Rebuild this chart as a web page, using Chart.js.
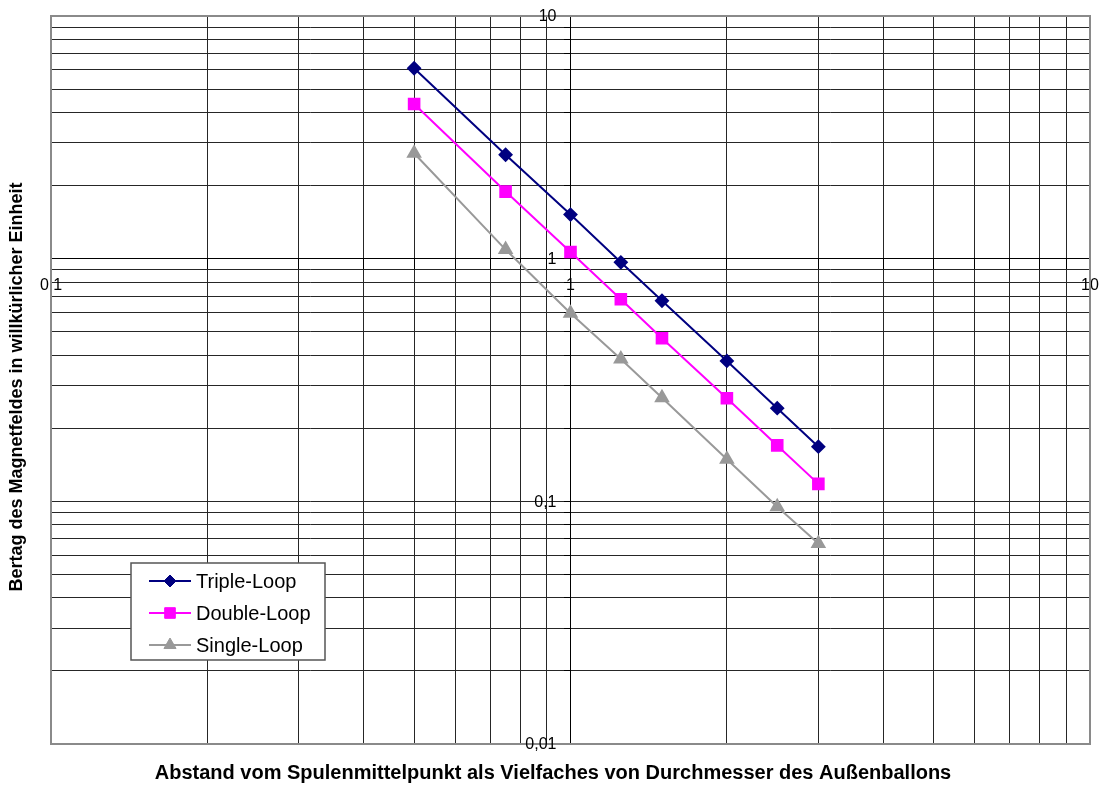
<!DOCTYPE html>
<html>
<head>
<meta charset="utf-8">
<script src="https://cdn.jsdelivr.net/npm/chart.js@4/dist/chart.umd.min.js"></script>
<style>
  html, body { margin: 0; padding: 0; background: #fff; }
  #wrap { width: 1106px; height: 787px; }
  canvas { display: block; }
</style>
</head>
<body>
<div id="wrap"><canvas id="fieldChart" width="1106" height="787"></canvas></div>
<script>
// distance from coil centre (multiples of outer balloon diameter)
const distances = [0.5, 0.75, 1, 1.25, 1.5, 2, 2.5, 3];
const tripleLoop = [6.09, 2.68, 1.52, 0.966, 0.671, 0.379, 0.242, 0.168];
const doubleLoop = [4.34, 1.89, 1.065, 0.68, 0.47, 0.266, 0.17, 0.118];
const singleLoop = [2.72, 1.09, 0.596, 0.386, 0.267, 0.149, 0.095, 0.067];
const seriesNames = ['Triple-Loop', 'Double-Loop', 'Single-Loop'];

const xDecades = [0.1, 1, 10];
const xTickLabels = ['0,1', '1', '10'];
const yDecades = [0.01, 0.1, 1, 10];
const yTickLabels = ['0,01', '0,1', '1', '10'];

const xTitle = 'Abstand vom Spulenmittelpunkt als Vielfaches von Durchmesser des Außenballons';
const yTitle = 'Bertag des Magnetfeldes in willkürlicher Einheit';

const FONT = 'Arial, "Liberation Sans", sans-serif';

// grid positions 1..9 in every decade
function gridValues(decades) {
  const out = [];
  for (let i = 0; i < decades.length - 1; i++) {
    for (let k = 1; k < 10; k++) out.push(parseFloat((k * decades[i]).toPrecision(6)));
  }
  out.push(decades[decades.length - 1]);
  return out;
}

function decadeLabel(decades, labels) {
  return (value) => {
    const i = decades.findIndex(d => Math.abs(d - value) < d * 1e-6);
    return i >= 0 ? labels[i] : '';
  };
}

const toPoints = (ys) => distances.map((x, i) => ({ x: x, y: ys[i] }));

const frameAndLegend = {
  id: 'frameAndLegend',
  beforeDatasetsDraw(chart) {
    const { ctx, chartArea: a, scales } = chart;
    ctx.save();
    ctx.strokeStyle = '#8a8a8a';
    ctx.lineWidth = 2;
    ctx.strokeRect(a.left, a.top, a.right - a.left, a.bottom - a.top);

    // y tick labels sit left of the y axis, which crosses at x = 1
    const axisX = scales.x.getPixelForValue(1);
    ctx.fillStyle = '#000';
    ctx.font = '16px ' + FONT;
    ctx.textAlign = 'right';
    ctx.textBaseline = 'middle';
    yDecades.forEach((v, i) => {
      ctx.fillText(yTickLabels[i], axisX - 14, scales.y.getPixelForValue(v) + 1);
    });
    ctx.restore();
  },
  afterDraw(chart) {
    const { ctx } = chart;
    ctx.save();

    // legend box
    const box = { x: 131, y: 563, w: 194, h: 97 };
    ctx.fillStyle = '#fff';
    ctx.fillRect(box.x, box.y, box.w, box.h);
    ctx.strokeStyle = '#555';
    ctx.lineWidth = 1.5;
    ctx.strokeRect(box.x, box.y, box.w, box.h);

    chart.data.datasets.forEach((ds, i) => {
      const cy = 581 + i * 32;
      ctx.strokeStyle = ds.borderColor;
      ctx.lineWidth = ds.borderWidth;
      ctx.beginPath();
      ctx.moveTo(149, cy);
      ctx.lineTo(191, cy);
      ctx.stroke();
      ctx.fillStyle = ds.pointBackgroundColor;
      ctx.strokeStyle = ds.pointBorderColor;
      ctx.lineWidth = 1;
      Chart.helpers.drawPoint(ctx, {
        pointStyle: ds.pointStyle, radius: ds.pointRadius, rotation: 0, borderWidth: 1
      }, 170, cy);
      ctx.fillStyle = '#000';
      ctx.font = '20px ' + FONT;
      ctx.textAlign = 'left';
      ctx.textBaseline = 'middle';
      ctx.fillText(ds.label, 196, cy + 1);
    });

    // axis titles
    ctx.fillStyle = '#000';
    ctx.textAlign = 'center';
    ctx.textBaseline = 'middle';
    ctx.font = 'bold 20px ' + FONT;
    ctx.fillText(xTitle, 553, 773);
    ctx.font = 'bold 18px ' + FONT;
    ctx.translate(17, 387);
    ctx.rotate(-Math.PI / 2);
    ctx.fillText(yTitle, 0, 0);
    ctx.restore();
  }
};

const ctx = document.getElementById('fieldChart').getContext('2d');

new Chart(ctx, {
  type: 'line',
  data: {
    datasets: [
      {
        label: seriesNames[0],
        data: toPoints(tripleLoop),
        borderColor: '#000080',
        backgroundColor: '#000080',
        pointBackgroundColor: '#000080',
        pointBorderColor: '#000080',
        pointStyle: 'rectRot',
        pointRadius: 6,
        borderWidth: 2
      },
      {
        label: seriesNames[1],
        data: toPoints(doubleLoop),
        borderColor: '#ff00ff',
        backgroundColor: '#ff00ff',
        pointBackgroundColor: '#ff00ff',
        pointBorderColor: '#ff00ff',
        pointStyle: 'rect',
        pointRadius: 7.5,
        borderWidth: 2
      },
      {
        label: seriesNames[2],
        data: toPoints(singleLoop),
        borderColor: '#999999',
        backgroundColor: '#999999',
        pointBackgroundColor: '#999999',
        pointBorderColor: '#999999',
        pointStyle: 'triangle',
        pointRadius: 7,
        borderWidth: 2
      }
    ]
  },
  options: {
    responsive: false,
    animation: false,
    devicePixelRatio: 1,
    layout: { padding: { left: 51, top: 16, right: 16, bottom: 43 } },
    plugins: {
      legend: { display: false },
      tooltip: { enabled: false }
    },
    elements: { line: { tension: 0 } },
    scales: {
      x: {
        type: 'logarithmic',
        position: { y: 1 },
        min: 0.1,
        max: 10,
        afterBuildTicks: (axis) => { axis.ticks = gridValues(xDecades).map(v => ({ value: v })); },
        grid: { color: '#262626', lineWidth: 1, tickLength: 10, tickColor: '#000' },
        border: { color: '#000', width: 1 },
        ticks: {
          autoSkip: false,
          maxRotation: 0,
          padding: 7,
          color: '#000',
          font: { family: FONT, size: 16 },
          callback: decadeLabel(xDecades, xTickLabels)
        }
      },
      y: {
        type: 'logarithmic',
        position: { x: 1 },
        min: 0.01,
        max: 10,
        afterBuildTicks: (axis) => { axis.ticks = gridValues(yDecades).map(v => ({ value: v })); },
        grid: { color: '#262626', lineWidth: 1, tickLength: 6, tickColor: '#000' },
        border: { color: '#000', width: 1 },
        ticks: {
          display: false,
          autoSkip: false,
          callback: decadeLabel(yDecades, yTickLabels)
        }
      }
    }
  },
  plugins: [frameAndLegend]
});
</script>
</body>
</html>
